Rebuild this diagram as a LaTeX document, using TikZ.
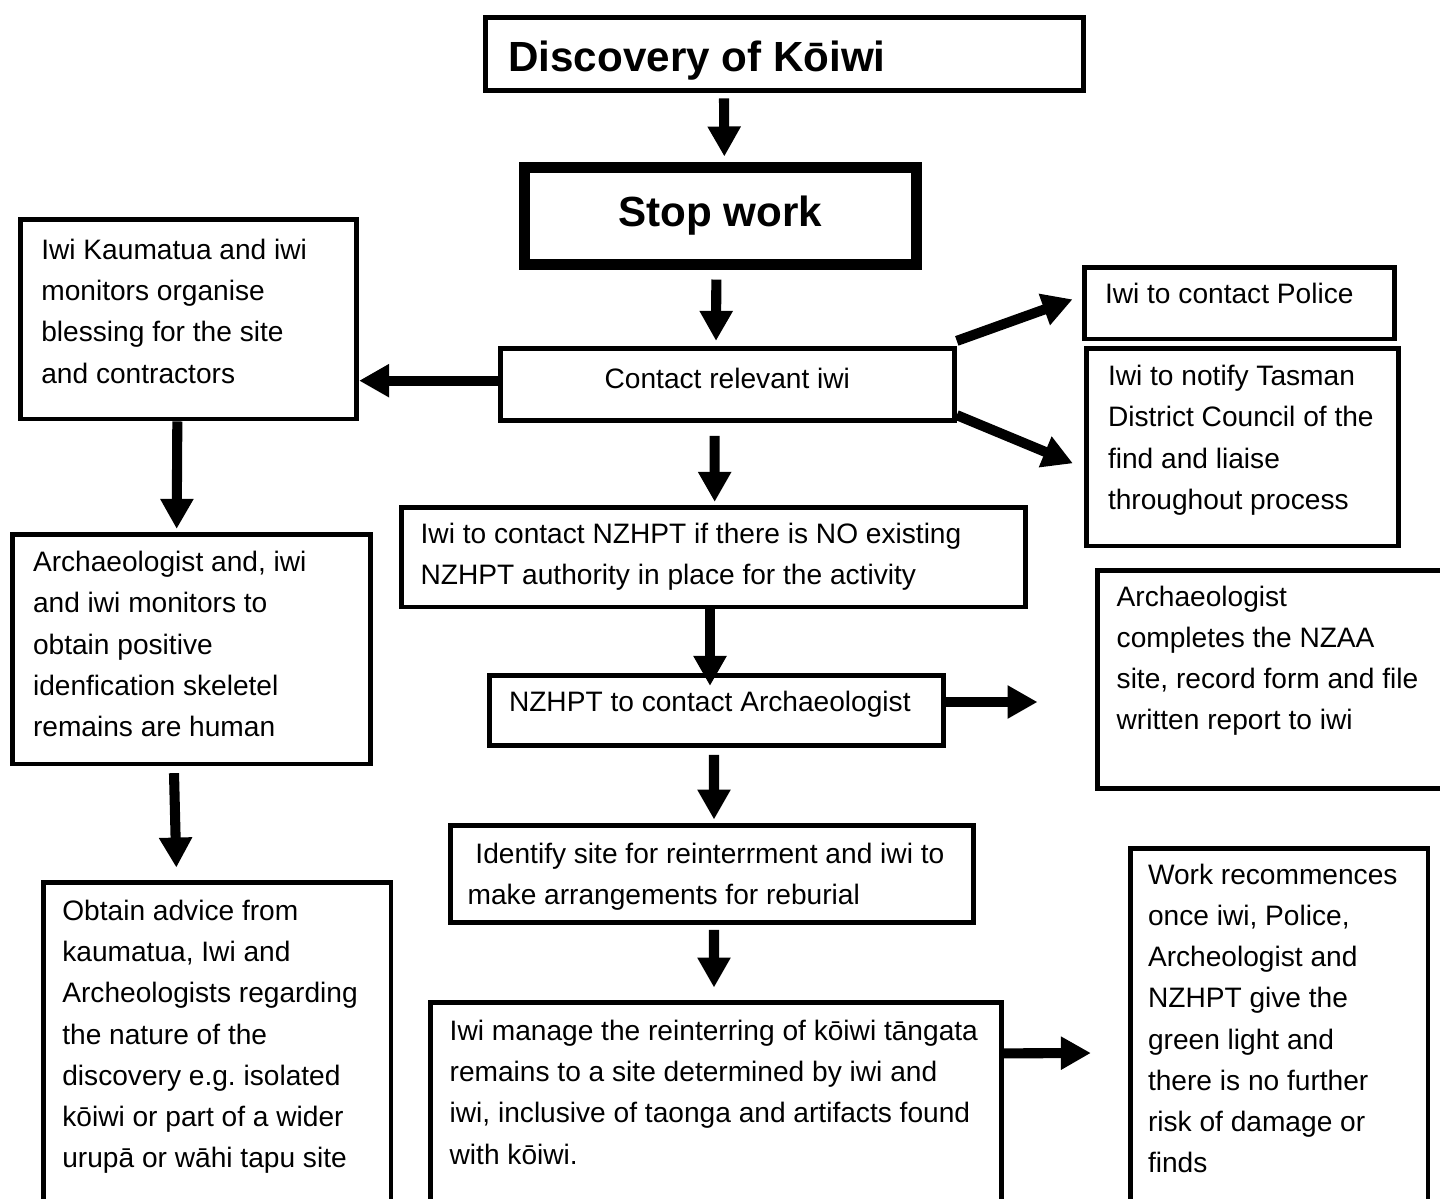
\documentclass[tikz,border=0pt]{standalone}
\usepackage{fontspec}
\setmainfont{Liberation Sans}
\usetikzlibrary{positioning,arrows.meta,calc}
\definecolor{flowblack}{HTML}{000000}
\frenchspacing

\begin{document}
\begin{tikzpicture}[
    panel/.style={draw=flowblack,line width=2.1pt,inner sep=0pt},
    heavypanel/.style={draw=flowblack,line width=4.7pt,inner sep=0pt},
    heading/.style={font=\fontsize{18}{22}\selectfont\bfseries,inner sep=0pt},
    note/.style={font=\fontsize{12}{17.6}\selectfont,align=left,anchor=north west,inner sep=0pt},
    arr/.style={-{Triangle[length=0.45cm,width=0.47cm]},line width=4.3pt,flowblack}]
  \useasboundingbox (0,0) rectangle (21.6,-17.97);
  % boxes
  \node[panel,minimum width=8.97cm,minimum height=1.10cm] (disc)   at (11.77,-0.81)  {};
  \node[heavypanel,minimum width=5.88cm,minimum height=1.46cm] (stop) at (10.80,-3.24) {};
  \node[panel,minimum width=6.81cm,minimum height=1.08cm] (contact) at (10.91,-5.77) {};
  \node[panel,minimum width=5.04cm,minimum height=2.99cm] (kau)    at (2.83,-4.79)   {};
  \node[panel,minimum width=5.37cm,minimum height=3.44cm] (arch)   at (2.87,-9.74)   {};
  \node[panel,minimum width=5.21cm,minimum height=4.88cm] (advice) at (3.26,-15.68)  {};
  \node[panel,minimum width=4.65cm,minimum height=1.07cm] (police) at (18.59,-4.55)  {};
  \node[panel,minimum width=4.68cm,minimum height=2.96cm] (tasman) at (18.64,-6.71)  {};
  \node[panel,minimum width=9.36cm,minimum height=1.49cm] (nzhpt)  at (10.70,-8.36)  {};
  \node[panel,minimum width=6.81cm,minimum height=1.05cm] (nzarch) at (10.75,-10.66) {};
  \node[panel,minimum width=5.40cm,minimum height=3.27cm] (record) at (19.16,-10.19) {};
  \node[panel,minimum width=7.85cm,minimum height=1.46cm] (site)   at (10.68,-13.11) {};
  \node[panel,minimum width=8.57cm,minimum height=3.08cm] (rebury) at (10.74,-16.58) {};
  \node[panel,minimum width=4.46cm,minimum height=5.39cm] (resume) at (19.19,-15.42) {};
  % texts
  \node[heading,anchor=north west] (discT) at ([shift={(0.37,-0.38)}]disc.north west) {Discovery of Kōiwi};
  \node[heading] (stopT) at (stop.center) {Stop work};
  \node[note,anchor=center] (contactT) at ([yshift=0.1cm]contact.center) {Contact relevant iwi};
  \node[note] (kauT) at ([shift={(0.34,-0.32)}]kau.north west)
    {Iwi Kaumatua and iwi\\monitors organise\\blessing for the site\\and contractors};
  \node[note] (archT) at ([shift={(0.34,-0.28)}]arch.north west)
    {Archaeologist and, iwi\\and iwi monitors to\\obtain positive\\idenfication skeletel\\remains are human};
  \node[note] (adviceT) at ([shift={(0.31,-0.29)}]advice.north west)
    {Obtain advice from\\kaumatua, Iwi and\\Archeologists regarding\\the nature of the\\discovery e.g. isolated\\kōiwi or part of a wider\\urupā or wāhi tapu site};
  \node[note] (policeT) at ([shift={(0.34,-0.26)}]police.north west) {Iwi to contact Police};
  \node[note] (tasmanT) at ([shift={(0.35,-0.28)}]tasman.north west)
    {Iwi to notify Tasman\\District Council of the\\find and liaise\\throughout process};
  \node[note] (nzhptT) at ([shift={(0.32,-0.26)}]nzhpt.north west)
    {Iwi to contact NZHPT if there is NO existing\\NZHPT authority in place for the activity};
  \node[note] (nzarchT) at ([shift={(0.32,-0.26)}]nzarch.north west) {NZHPT to contact Archaeologist};
  \node[note] (recordT) at ([shift={(0.32,-0.26)}]record.north west)
    {Archaeologist\\completes the NZAA\\site, record form and file\\written report to iwi};
  \node[note] (siteT) at ([shift={(0.29,-0.29)}]site.north west)
    {\ Identify site for reinterrment and iwi to\\make arrangements for reburial};
  \node[note] (reburyT) at ([shift={(0.32,-0.29)}]rebury.north west)
    {Iwi manage the reinterring of kōiwi tāngata\\remains to a site determined by iwi and\\iwi, inclusive of taonga and artifacts found\\with kōiwi.};
  \node[note] (resumeT) at ([shift={(0.29,-0.26)}]resume.north west)
    {Work recommences\\once iwi, Police,\\Archeologist and\\NZHPT give the\\green light and\\there is no further\\risk of damage or\\finds};
  % connectors
  \draw[arr] ([xshift=-0.91cm,yshift=-0.08cm]disc.south) -- ([xshift=0.065cm,yshift=0.08cm]stop.north);
  \draw[arr] ([xshift=-0.055cm,yshift=-0.14cm]stop.south) -- ([xshift=-0.17cm,yshift=0.08cm]contact.north);
  \draw[arr] ([yshift=0.06cm]contact.west) -- ([yshift=0.06cm]contact.west -| kau.east);
  \draw[arr] ([yshift=0.08cm]contact.north east) -- ([xshift=-0.14cm,yshift=0.06cm]police.west);
  \draw[arr] ([yshift=0.12cm]contact.south east) -- ([xshift=-0.17cm,yshift=-0.24cm]tasman.west);
  \draw[arr] ([xshift=-0.19cm,yshift=-0.19cm]contact.south) -- ([xshift=0.02cm,yshift=0.05cm]nzhpt.north);
  \draw[arr] ([xshift=-0.17cm]kau.south) -- ([xshift=-0.22cm,yshift=0.05cm]arch.north);
  \draw[arr] ([xshift=-0.26cm,yshift=-0.1cm]arch.south) -- ([xshift=-0.615cm,yshift=0.19cm]advice.north);
  \draw[arr] ([xshift=-0.05cm]nzhpt.south) -- ([xshift=-0.1cm,yshift=-0.19cm]nzarch.north);
  \draw[arr] ([yshift=0.13cm]nzarch.east) -- ([xshift=-0.86cm,yshift=-0.34cm]record.west);
  \draw[arr] ([xshift=-0.04cm,yshift=-0.1cm]nzarch.south) -- ([xshift=0.03cm,yshift=0.05cm]site.north);
  \draw[arr] ([xshift=0.03cm,yshift=-0.07cm]site.south) -- ([xshift=-0.03cm,yshift=0.19cm]rebury.north);
  \draw[arr] ([yshift=0.78cm]rebury.east) -- ([xshift=-0.56cm,yshift=-0.375cm]resume.west);
\end{tikzpicture}
\end{document}
